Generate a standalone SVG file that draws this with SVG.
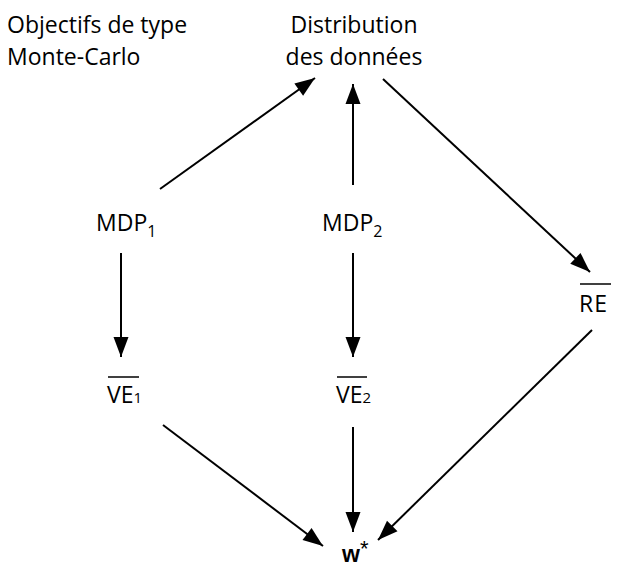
<svg xmlns="http://www.w3.org/2000/svg" width="640" height="570" viewBox="0 0 640 570">
<defs>
<marker id="ah" markerUnits="userSpaceOnUse" markerWidth="22" markerHeight="16" refX="20" refY="8" orient="auto" overflow="visible">
<path d="M0,0.5 L20,8 L0,15.5 Z" fill="#000"/>
</marker>
<style>
.t{font-family:"Open Sans","Liberation Sans",sans-serif;font-size:23px;fill:#000}
.c{stroke:#000;stroke-width:2;fill:none;marker-end:url(#ah)}
.b{font-family:"Liberation Sans",Arial,sans-serif;font-weight:bold;font-size:23px;fill:#000}
</style>
</defs>
<rect width="640" height="570" fill="#fff"/>
<g id="objectifs">
<text class="t" x="7" y="33">Objectifs de type</text>
<text class="t" x="7" y="65">Monte-Carlo</text>
</g>
<g id="distribution">
<text class="t" x="354" y="33" text-anchor="middle">Distribution</text>
<text class="t" x="354" y="65" text-anchor="middle">des données</text>
</g>
<g id="mdp1">
<text class="t" x="96" y="231">MDP<tspan font-size="16" dy="6">1</tspan></text>
</g>
<g id="mdp2">
<text class="t" x="322" y="231">MDP<tspan font-size="16" dy="6">2</tspan></text>
</g>
<g id="ve1">
<line x1="108" y1="377" x2="139" y2="377" stroke="#000" stroke-width="1.5"/>
<text class="t" x="107" y="403">VE<tspan font-size="15">1</tspan></text>
</g>
<g id="ve2">
<line x1="337" y1="377" x2="367" y2="377" stroke="#000" stroke-width="1.5"/>
<text class="t" x="336" y="403">VE<tspan font-size="15">2</tspan></text>
</g>
<g id="re">
<line x1="580" y1="284" x2="611" y2="284" stroke="#000" stroke-width="1.5"/>
<text class="t" x="579" y="312" letter-spacing="1">RE</text>
</g>
<g id="wstar">
<text class="b" x="342" y="562">w<tspan font-weight="normal" font-size="22" dy="-6">*</tspan></text>
</g>
<g id="connectors">
<line class="c" x1="160" y1="189" x2="315" y2="78"/>
<line class="c" x1="353" y1="185" x2="353" y2="84"/>
<line class="c" x1="383" y1="79" x2="590" y2="272"/>
<line class="c" x1="121" y1="253" x2="121" y2="357"/>
<line class="c" x1="353" y1="253" x2="353" y2="357"/>
<line class="c" x1="163" y1="425" x2="323" y2="546"/>
<line class="c" x1="353" y1="427" x2="353" y2="532"/>
<line class="c" x1="592" y1="330" x2="378" y2="540"/>
</g>
</svg>
